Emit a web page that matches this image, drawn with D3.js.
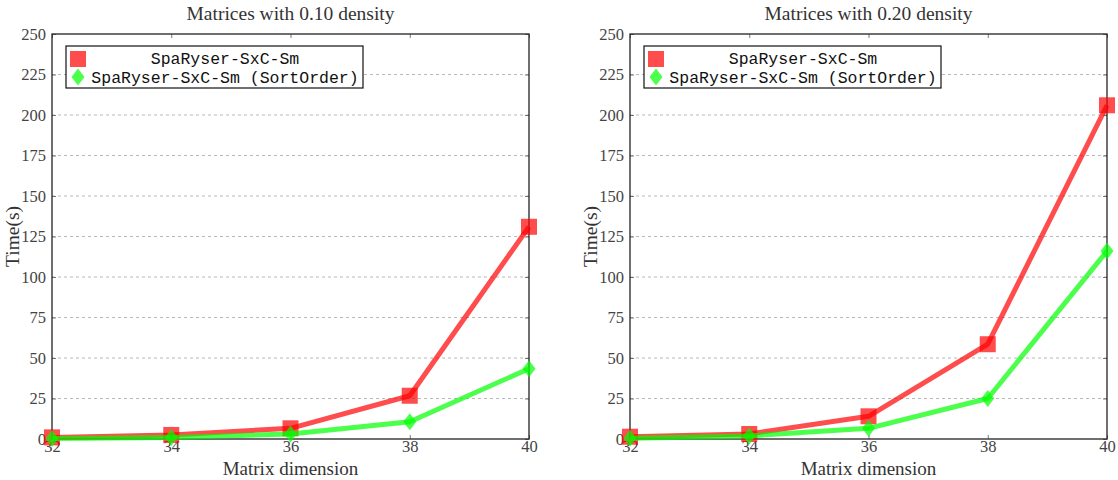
<!DOCTYPE html>
<html>
<head>
<meta charset="utf-8">
<script src="https://cdn.jsdelivr.net/npm/d3@7/dist/d3.min.js"></script>
<style>
  html, body { margin: 0; padding: 0; background: #fff; }
  svg { display: block; }
</style>
</head>
<body>
<svg id="chart" width="1118" height="480"></svg>
<script>
// ---- Data ----
const dims = [32, 34, 36, 38, 40];
const yTickValues = [0, 25, 50, 75, 100, 125, 150, 175, 200, 225, 250];
const seriesNames = ["SpaRyser-SxC-Sm", "SpaRyser-SxC-Sm (SortOrder)"];
const titles = ["Matrices with 0.10 density", "Matrices with 0.20 density"];
const red010 = [1, 2.5, 6.6, 26.7, 131];
const green010 = [0.3, 1, 3.1, 10.7, 43.4];
const red020 = [1.4, 3.1, 14, 58.5, 206];
const green020 = [0.4, 1.9, 6.6, 25, 116];

(function () {
const panels = [
  { title: titles[0], red: red010, green: green010, x0: 52, x1: 529 },
  { title: titles[1], red: red020, green: green020, x0: 630, x1: 1107 }
];

const svg = d3.select("#chart");
const plotTop = 34, plotBottom = 439;
const serif = "'Liberation Serif', 'DejaVu Serif', serif";
const mono = "'Liberation Mono', 'DejaVu Sans Mono', monospace";
const textColor = "#333";

panels.forEach(p => {
  const x = d3.scaleLinear().domain([32, 40]).range([p.x0, p.x1]);
  const y = d3.scaleLinear().domain([0, 250]).range([plotBottom, plotTop]);
  const g = svg.append("g");

  // grid
  g.append("g").selectAll("line").data(yTickValues.filter(v => v > 0 && v < 250)).join("line")
    .attr("x1", p.x0).attr("x2", p.x1)
    .attr("y1", d => y(d)).attr("y2", d => y(d))
    .attr("stroke", "#b8b8b8").attr("stroke-width", 1).attr("stroke-dasharray", "3,3");

  // axes with inward ticks
  const axL = d3.axisLeft(y).tickValues(yTickValues).tickSizeInner(-4).tickSizeOuter(0).tickPadding(6);
  const axR = d3.axisRight(y).tickValues(yTickValues).tickSizeInner(-4).tickSizeOuter(0).tickFormat("");
  const axB = d3.axisBottom(x).tickValues(dims).tickSizeInner(-4).tickSizeOuter(0).tickPadding(6);
  const axT = d3.axisTop(x).tickValues(dims).tickSizeInner(-4).tickSizeOuter(0).tickFormat("");

  const gl = g.append("g").attr("transform", `translate(${p.x0},0)`).call(axL);
  const gr = g.append("g").attr("transform", `translate(${p.x1},0)`).call(axR);
  const gb = g.append("g").attr("transform", `translate(0,${plotBottom})`).call(axB);
  const gt = g.append("g").attr("transform", `translate(0,${plotTop})`).call(axT);
  [gl, gr, gb, gt].forEach(a => {
    a.select(".domain").remove();
    a.selectAll(".tick line").attr("stroke", "#555").attr("stroke-width", 0.8);
    a.selectAll("text").attr("font-family", serif).attr("font-size", 16.5).attr("fill", "#444");
  });
  gb.selectAll("text").attr("dy", "0.45em");

  // frame
  g.append("rect").attr("x", p.x0).attr("y", plotTop)
    .attr("width", p.x1 - p.x0).attr("height", plotBottom - plotTop)
    .attr("fill", "none").attr("stroke", "#222").attr("stroke-width", 1.3);

  const line = d3.line().x((d, i) => x(dims[i])).y(d => y(d));
  const redC = "rgba(255,0,0,0.7)";
  const greenC = "rgba(0,255,0,0.7)";

  // red series
  g.append("path").datum(p.red).attr("d", line)
    .attr("fill", "none").attr("stroke", redC).attr("stroke-width", 5).attr("stroke-linejoin", "round");
  g.append("g").selectAll("rect").data(p.red).join("rect")
    .attr("x", (d, i) => x(dims[i]) - 8).attr("y", d => y(d) - 8)
    .attr("width", 16).attr("height", 16).attr("fill", redC);

  // green series
  g.append("path").datum(p.green).attr("d", line)
    .attr("fill", "none").attr("stroke", greenC).attr("stroke-width", 5).attr("stroke-linejoin", "round");
  g.append("g").selectAll("path").data(p.green).join("path")
    .attr("d", (d, i) => {
      const cx = x(dims[i]), cy = y(d);
      return `M${cx},${cy - 8.5}L${cx + 6.5},${cy}L${cx},${cy + 8.5}L${cx - 6.5},${cy}Z`;
    })
    .attr("fill", greenC);

  // titles and labels
  const cx = (p.x0 + p.x1) / 2;
  g.append("text").attr("x", cx).attr("y", 20).attr("text-anchor", "middle")
    .attr("font-family", serif).attr("font-size", 19.5).attr("fill", textColor).text(p.title);
  g.append("text").attr("x", cx).attr("y", 475).attr("text-anchor", "middle")
    .attr("font-family", serif).attr("font-size", 19).attr("fill", textColor).text("Matrix dimension");
  g.append("text").attr("transform", `translate(${p.x0 - 33},${(plotTop + plotBottom) / 2}) rotate(-90)`)
    .attr("text-anchor", "middle")
    .attr("font-family", serif).attr("font-size", 19.5).attr("fill", textColor).text("Time(s)");

  // legend
  const lx = p.x0 + 14, ly = 46;
  g.append("rect").attr("x", lx).attr("y", ly).attr("width", 297).attr("height", 42)
    .attr("fill", "#fff").attr("stroke", "#111").attr("stroke-width", 1.2);
  const mx = lx + 12;
  g.append("rect").attr("x", mx - 8).attr("y", ly + 13 - 8).attr("width", 16).attr("height", 16).attr("fill", redC);
  g.append("path").attr("d", `M${mx},${ly + 31 - 8.5}L${mx + 6.5},${ly + 31}L${mx},${ly + 31 + 8.5}L${mx - 6.5},${ly + 31}Z`)
    .attr("fill", greenC);
  const textMid = lx + 159;
  g.append("text").attr("x", textMid).attr("y", ly + 18).attr("text-anchor", "middle")
    .attr("font-family", mono).attr("font-size", 16.5).attr("fill", "#111").text(seriesNames[0]);
  g.append("text").attr("x", textMid).attr("y", ly + 37).attr("text-anchor", "middle")
    .attr("font-family", mono).attr("font-size", 16.5).attr("fill", "#111").text(seriesNames[1]);
});
})();
</script>
</body>
</html>
